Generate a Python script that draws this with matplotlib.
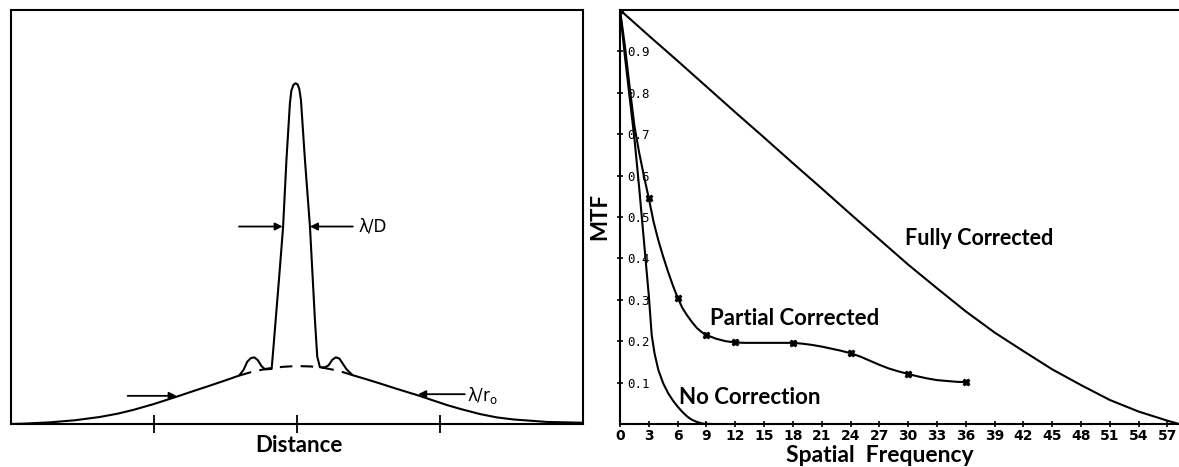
import matplotlib
matplotlib.use("Agg")
import matplotlib.pyplot as plt

# ---------------- data: left panel (image profile, normalised units) ----------------
profile_x = [-2.0, -1.9, -1.724, -1.55, -1.375, -1.25, -1.142, -1.0, -0.838, -0.7, -0.629, -0.5,
             -0.401, -0.37, -0.345, -0.32, -0.295, -0.27, -0.245, -0.22, -0.174,
             -0.16, -0.146, -0.12, -0.094, -0.07, -0.046, -0.036, -0.022, -0.006, 0.008, 0.019,
             0.031, 0.059, 0.094, 0.129, 0.145, 0.164,
             0.20, 0.225, 0.25, 0.275, 0.30, 0.325, 0.35, 0.392,
             0.48, 0.583, 0.7, 0.851, 1.05, 1.15, 1.283, 1.4, 1.516, 1.75, 1.88, 2.0]
profile_y = [0.0, 0.001, 0.004, 0.009, 0.017, 0.025, 0.034, 0.048, 0.066, 0.082, 0.090, 0.105,
             0.117, 0.131, 0.150, 0.159, 0.161, 0.154, 0.140, 0.132, 0.133,
             0.19, 0.25, 0.36, 0.475, 0.64, 0.775, 0.805, 0.819, 0.823, 0.820, 0.810,
             0.783, 0.638, 0.477, 0.251, 0.163, 0.137,
             0.137, 0.142, 0.155, 0.161, 0.158, 0.145, 0.132, 0.118,
             0.109, 0.098, 0.085, 0.069, 0.046, 0.036, 0.024, 0.016, 0.011, 0.005, 0.004, 0.003]
halo_x = [-0.401, -0.3, -0.2, -0.1, 0.0, 0.1, 0.2, 0.3, 0.392]
halo_y = [0.117, 0.127, 0.134, 0.138, 0.140, 0.139, 0.135, 0.128, 0.118]
distance_ticks = [-1, 0, 1]

# ---------------- data: right panel (MTF) ----------------
full_f = [0, 3, 6, 9, 12, 15, 18, 21, 24, 27, 30, 33, 36, 39, 42, 45, 48, 51, 54, 57, 58.2]
full_mtf = [1.0, 0.938, 0.877, 0.815, 0.753, 0.692, 0.630, 0.569, 0.507, 0.446, 0.385, 0.328,
            0.272, 0.221, 0.176, 0.132, 0.094, 0.058, 0.030, 0.008, 0.0]

partial_f = [0, 0.5, 1.0, 1.5, 2.0, 2.5, 3.0, 3.5, 4.0, 4.5, 5.0, 5.5, 6.0, 6.5, 7.0, 7.5, 8.0,
             8.5, 9.0, 10, 11, 12, 13, 14, 15, 16, 17, 18, 19, 20, 21, 22, 23, 24, 25, 26,
             27, 28, 29, 30, 31, 32, 33, 34, 35, 36]
partial_mtf = [1.0, 0.915, 0.815, 0.72, 0.655, 0.598, 0.545, 0.488, 0.443, 0.404, 0.368, 0.335,
               0.305, 0.28, 0.262, 0.246, 0.232, 0.222, 0.215, 0.206, 0.200, 0.197, 0.196,
               0.196, 0.196, 0.196, 0.196, 0.196, 0.194, 0.191, 0.187, 0.182, 0.177, 0.171,
               0.163, 0.153, 0.143, 0.134, 0.127, 0.121, 0.115, 0.110, 0.106, 0.104, 0.102, 0.101]
partial_marker_f = [0, 3, 6, 9, 12, 18, 24, 30, 36]
partial_marker_mtf = [1.0, 0.545, 0.305, 0.215, 0.197, 0.196, 0.171, 0.121, 0.101]

nocorr_f = [0, 0.5, 1.0, 1.5, 2.0, 2.5, 3.0, 3.3, 3.6, 4.0, 4.5, 5.0, 5.5, 6.0, 6.5, 7.0,
            7.5, 8.0, 8.6, 9.5]
nocorr_mtf = [1.0, 0.89, 0.79, 0.69, 0.57, 0.44, 0.31, 0.215, 0.17, 0.13, 0.098, 0.075,
              0.057, 0.042, 0.029, 0.018, 0.010, 0.005, 0.001, 0.0]

freq_ticks = list(range(0, 58, 3))
mtf_ticks = [0.1, 0.2, 0.3, 0.4, 0.5, 0.6, 0.7, 0.8, 0.9]
mtf_tick_labels = ["0.1", "0.2", "0.3", "0.4", "0.5", "0.6", "0.7", "0.8", "0.9"]

TXT = ["Lato", "DejaVu Sans"]
NARROW = ["Liberation Sans Narrow", "DejaVu Sans"]
MONO = ["DejaVu Sans Mono"]
LW = 1.5

W, H = 1179, 467
fig = plt.figure(figsize=(W / 100, H / 100), dpi=100)
fig.patch.set_facecolor("white")

# ---------------- left panel ----------------
axL = fig.add_axes([10.5 / W, 43 / H, 572 / W, 414 / H])
axL.plot(profile_x, profile_y, color="black", lw=LW, solid_joinstyle="round")
axL.plot(halo_x, halo_y, color="black", lw=LW, dashes=(6, 4))
axL.set_xlim(-2, 2)
axL.set_ylim(0, 1)
axL.set_xticks(distance_ticks)
axL.set_xticklabels([])
axL.set_yticks([])
axL.tick_params(axis="x", direction="inout", length=13, width=1.3, color="black")
for s in axL.spines.values():
    s.set_linewidth(1.5)
axL.text(0.504, -0.053, "Distance", transform=axL.transAxes, ha="center", va="center",
         fontsize=16, family=TXT, weight="bold")

arrow_kw = dict(arrowstyle="-|>", color="black", lw=1.3, mutation_scale=11,
                shrinkA=0, shrinkB=0)
axL.annotate("", xy=(-0.097, 0.477), xytext=(-0.402, 0.477), arrowprops=arrow_kw)
axL.annotate("", xy=(0.094, 0.477), xytext=(0.394, 0.477), arrowprops=arrow_kw)
axL.annotate("", xy=(-0.838, 0.068), xytext=(-1.181, 0.068), arrowprops=arrow_kw)
axL.annotate("", xy=(0.851, 0.072), xytext=(1.177, 0.072), arrowprops=arrow_kw)
axL.text(0.43, 0.477, "λ/D", ha="left", va="center", fontsize=12, family=["DejaVu Sans"])
axL.text(1.19, 0.070, r"λ/r$_\mathregular{o}$", ha="left", va="center", fontsize=12,
         family=["DejaVu Sans"])

# ---------------- right panel ----------------
axR = fig.add_axes([620 / W, 43 / H, 559 / W, 414 / H])
axR.plot(full_f, full_mtf, color="black", lw=LW)
axR.plot(partial_f, partial_mtf, color="black", lw=LW)
axR.plot(partial_marker_f, partial_marker_mtf, linestyle="none", marker="X", ms=5,
         color="black")
axR.plot(nocorr_f, nocorr_mtf, color="black", lw=LW)
axR.set_xlim(0, 58.2)
axR.set_ylim(0, 1)
axR.spines["right"].set_visible(False)
for s in ["left", "bottom", "top"]:
    axR.spines[s].set_linewidth(1.5)

axR.set_xticks(freq_ticks)
axR.set_xticklabels([str(t) for t in freq_ticks], family=NARROW, weight="bold", fontsize=10)
axR.tick_params(axis="x", direction="inout", length=5, width=1.2, pad=1)
axR.set_yticks(mtf_ticks)
axR.set_yticklabels(mtf_tick_labels, family=MONO, fontsize=9)
axR.tick_params(axis="y", direction="inout", length=5, width=1.2, pad=-8)
for lbl in axR.get_yticklabels():
    lbl.set_horizontalalignment("left")

axR.text(-0.036, 0.5, "MTF", transform=axR.transAxes, rotation=90, ha="center",
         va="center", fontsize=16, family=TXT, weight="bold")
axR.text(0.465, -0.075, "Spatial  Frequency", transform=axR.transAxes, ha="center",
         va="center", fontsize=16.5, family=TXT, weight="bold")
axR.text(29.7, 0.449, "Fully Corrected", ha="left", va="center", fontsize=15.5, family=TXT,
         weight="bold")
axR.text(9.4, 0.256, "Partial Corrected", ha="left", va="center", fontsize=16, family=TXT,
         weight="bold")
axR.text(6.15, 0.065, "No Correction", ha="left", va="center", fontsize=16, family=TXT,
         weight="bold")

fig.savefig("out.png", dpi=100, facecolor="white")
